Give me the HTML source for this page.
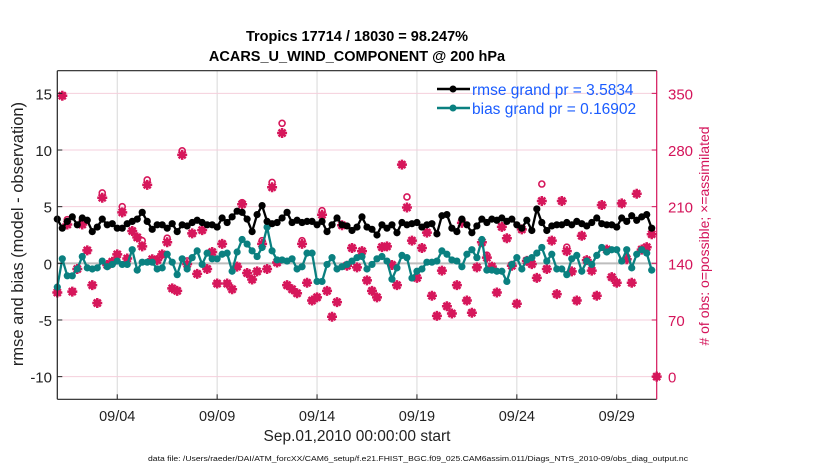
<!DOCTYPE html>
<html><head><meta charset="utf-8">
<style>
body{margin:0;background:#fff;}
svg{display:block;font-family:"Liberation Sans",Arial,sans-serif;}
</style></head>
<body>
<svg id="chart" width="830" height="470" viewBox="0 0 830 470" xmlns="http://www.w3.org/2000/svg">
<rect width="830" height="470" fill="#fff"/>
<g id="grid"></g>
<g id="marks"></g>
<g id="axes"></g>
<text x="357" y="41" text-anchor="middle" font-size="14.5" font-weight="bold">Tropics 17714 / 18030 = 98.247%</text>
<text x="357" y="61" text-anchor="middle" font-size="14.5" font-weight="bold">ACARS_U_WIND_COMPONENT @ 200 hPa</text>
<text x="357" y="441" text-anchor="middle" font-size="15.5" fill="#222">Sep.01,2010 00:00:00 start</text>
<text x="418" y="461" text-anchor="middle" font-size="7.6" textLength="540" lengthAdjust="spacingAndGlyphs" fill="#111">data file: /Users/raeder/DAI/ATM_forcXX/CAM6_setup/f.e21.FHIST_BGC.f09_025.CAM6assim.011/Diags_NTrS_2010-09/obs_diag_output.nc</text>
<text transform="translate(23,234) rotate(-90)" text-anchor="middle" font-size="16.5" fill="#222">rmse and bias (model - observation)</text>
<text transform="translate(709,236) rotate(-90)" text-anchor="middle" font-size="14" fill="#d4145a"># of obs: o=possible; ×=assimilated</text>
<g>
  <line x1="437" y1="89" x2="470" y2="89" stroke="#000" stroke-width="2.5"/>
  <circle cx="453" cy="89" r="3.5" fill="#000"/>
  <text x="472" y="95" font-size="15.5" fill="#1a5cff">rmse grand pr = 3.5834</text>
  <line x1="437" y1="108" x2="470" y2="108" stroke="#0a8080" stroke-width="2.5"/>
  <circle cx="453" cy="108" r="3.5" fill="#0a8080"/>
  <text x="472" y="114" font-size="15.5" fill="#1a5cff">bias grand pr = 0.16902</text>
</g>
</svg>
<script>
const rmse = [3.9,3.1,3.7,4.1,3.4,4.0,3.8,2.8,3.2,3.9,3.4,3.5,3.1,3.1,3.5,3.7,3.9,4.5,3.7,3.0,
3.4,3.4,3.1,3.5,2.8,3.4,3.3,3.6,3.8,3.6,3.4,3.4,3.2,4.0,3.6,4.1,4.6,4.5,3.9,2.8,
4.3,5.1,3.7,3.5,3.6,4.0,4.5,3.6,3.8,3.6,3.7,3.7,3.4,3.7,2.8,3.4,4.0,3.4,3.3,2.9,
3.2,4.1,3.2,3.0,2.5,3.4,3.1,3.4,2.7,3.6,3.4,3.5,3.6,3.2,3.4,3.5,2.6,4.2,4.3,3.1,
2.8,3.9,3.4,2.7,3.3,3.9,3.6,3.9,3.8,4.0,3.7,3.9,3.4,3.1,3.8,2.9,4.8,3.6,2.9,3.3,
3.4,3.4,3.6,3.4,3.7,3.5,3.3,3.6,4.0,3.5,3.4,3.4,3.2,4.0,3.7,4.2,3.8,4.1,4.3,3.1];
const bias = [-2.1,0.4,-1.1,-1.1,-0.5,0.6,-0.4,-0.5,-0.4,0.2,-0.3,-0.1,0.2,-0.1,-0.1,1.2,-0.6,0.1,0.1,0.1,
-0.5,-0.4,0.8,0.1,-1.0,0.4,-0.5,0.5,1.1,-0.1,0.9,0.4,0.4,0.8,0.9,-0.7,1.0,2.1,1.7,1.1,
0.6,1.4,3.2,1.1,0.3,0.3,0.2,0.4,-0.5,-0.3,0.9,0.9,-1.6,-1.6,-0.1,0.5,-0.5,-0.3,-0.1,0.2,
0.5,0.6,-0.5,-0.1,0.4,0.6,0.2,-1.4,-0.4,0.7,0.5,-1.3,-0.7,-0.5,0.1,0.1,0.2,1.1,0.8,0.3,
0.2,-0.3,0.8,1.2,0.5,2.1,-0.6,-0.6,-0.7,-0.7,-1.6,-0.1,0.5,-0.5,0.3,0.5,0.9,1.4,0.2,0.8,
-0.5,-0.5,-1.0,0.4,0.7,-0.7,0.2,-0.1,0.7,1.4,1.0,1.2,1.2,0.2,1.2,-0.4,0.8,1.2,0.9,-0.6];
const nUsed = [104,347,188,105,133,188,156,113,91,221,138,142,151,203,146,180,172,161,237,145,
144,151,166,109,106,274,139,177,127,181,133,154,115,164,115,108,136,213,128,120,
130,164,133,234,141,301,113,108,103,164,116,94,98,200,106,74,92,187,137,159,
135,155,119,106,98,160,161,138,113,262,209,168,122,159,178,100,75,131,87,78,
113,190,94,79,135,166,147,136,104,185,171,137,90,182,143,139,122,217,133,168,
102,217,155,130,94,174,144,131,100,212,157,123,116,214,145,116,226,157,160,176,0];
const nPoss = [104,347,194,105,133,193,156,113,91,227,138,142,151,210,146,180,172,168,243,145,
144,151,171,109,106,279,143,177,127,181,133,154,115,164,115,108,136,215,128,120,
130,168,133,240,141,313,113,108,103,168,116,94,98,205,106,74,92,187,137,159,
135,155,119,106,98,160,161,138,113,262,222,168,122,159,178,100,75,131,87,78,
113,193,94,79,135,166,150,136,104,185,171,137,90,182,143,139,122,238,133,168,
102,217,160,130,94,174,144,131,100,212,157,123,116,214,148,116,226,157,160,176,0];
const leftTicks = [15,10,5,0,-5,-10];
const rightTicks = [350,280,210,140,70,0];
const dayTicks = [3,8,13,18,23,28];
const dayLabels = ["09/04","09/09","09/14","09/19","09/24","09/29"];

const NS="http://www.w3.org/2000/svg";
const X0=57.3, X1=656.7, Y0=70.7, Y1=399.3;
const yMin=-12, yMax=17;
function xT(day){return X0+(day/30)*(X1-X0);}
function xI(i){return xT(i*0.25);}
function yL(v){return Y1-(v-yMin)/(yMax-yMin)*(Y1-Y0);}
function yR(n){return yL((n-140)/14);}
function mk(tag,attrs,parent){const e=document.createElementNS(NS,tag);for(const k in attrs)e.setAttribute(k,attrs[k]);parent.appendChild(e);return e;}
const grid=document.getElementById('grid'), marks=document.getElementById('marks'), axes=document.getElementById('axes');

dayTicks.forEach((d,k)=>{
  const l=mk('line',{x1:xT(d),x2:xT(d),y1:Y0,y2:Y1,stroke:'#d8d8d8','stroke-width':1},grid);
  
  
  const t=mk('line',{x1:xT(d),x2:xT(d),y1:Y1,y2:Y1-5,stroke:'#222','stroke-width':1},axes);
  
  
  const tx=mk('text',{x:xT(d),y:421,'text-anchor':'middle','font-size':14.5,fill:'#222'},axes);
  tx.textContent=dayLabels[k];
  
  
});
rightTicks.forEach(n=>{
  const l=mk('line',{x1:X0,x2:X1,y1:yR(n),y2:yR(n),stroke:'#f5cfdc','stroke-width':1},grid);
  
  
  const t=mk('line',{x1:X1,x2:X1-5,y1:yR(n),y2:yR(n),stroke:'#d4145a','stroke-width':1},axes);
  
  
  const tx=mk('text',{x:668,y:yR(n)+6,'font-size':15,fill:'#d4145a'},axes);
  tx.textContent=n;
  
  
});
const zl=mk('line',{x1:X0,x2:X1,y1:yL(0),y2:yL(0),stroke:'#bdbdbd','stroke-width':2},grid);


leftTicks.forEach(v=>{
  const t=mk('line',{x1:X0,x2:X0+5,y1:yL(v),y2:yL(v),stroke:'#222','stroke-width':1},axes);
  
  
  const tx=mk('text',{x:52,y:yL(v)+6,'text-anchor':'end','font-size':15,fill:'#222'},axes);
  tx.textContent=v;
  
  
});
const la=mk('line',{x1:X0,x2:X0,y1:Y0,y2:Y1,stroke:'#222','stroke-width':1.2},axes);


const ba=mk('line',{x1:X0,x2:X1,y1:Y1,y2:Y1,stroke:'#222','stroke-width':1.2},axes);


const ta=mk('line',{x1:X0,x2:X1,y1:Y0,y2:Y0,stroke:'#222','stroke-width':1.2},axes);


const ra=mk('line',{x1:X1,x2:X1,y1:Y0,y2:Y1,stroke:'#d4145a','stroke-width':1.2},axes);



const pink='#d6175b';
nPoss.forEach((n,i)=>{
  const c=mk('circle',{cx:xI(i),cy:yR(n),r:3,fill:'none',stroke:pink,'stroke-width':1.6},marks);
  
  
});
nUsed.forEach((n,i)=>{
  const cx=xI(i), cy=yR(n), s=5;
  const p=mk('path',{d:`M${cx-s} ${cy}H${cx+s}M${cx} ${cy-s}V${cy+s}M${cx-3.5} ${cy-3.5}L${cx+3.5} ${cy+3.5}M${cx-3.5} ${cy+3.5}L${cx+3.5} ${cy-3.5}`,stroke:pink,'stroke-width':2.5,fill:'none'},marks);
  
  
});

function series(vals,color,name){
  const pl=mk('polyline',{points:vals.map((v,i)=>xI(i)+','+yL(v)).join(' '),fill:'none',stroke:color,'stroke-width':2.3,'stroke-linejoin':'round'},marks);
  
  
  vals.forEach((v,i)=>{
    const c=mk('circle',{cx:xI(i),cy:yL(v),r:3.6,fill:color},marks);
    
    
  });
}
series(bias,'#0a8080','bias');
series(rmse,'#000','rmse');
</script>
</body></html>
